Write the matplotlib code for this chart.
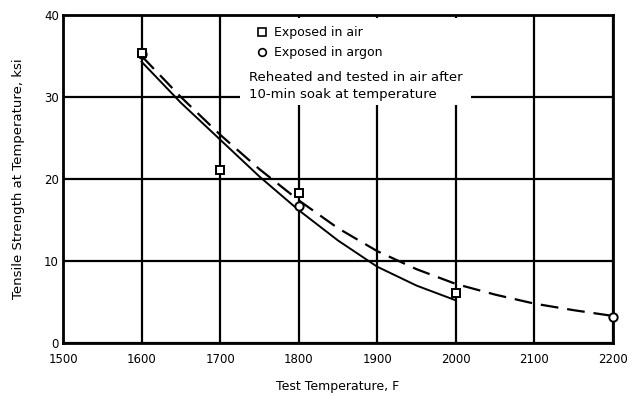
import matplotlib.pyplot as plt
from matplotlib.lines import Line2D
from matplotlib.patches import Rectangle

# measured points
air_temp = [1600, 1700, 1800, 2000]
air_strength = [35.4, 21.1, 18.3, 6.1]
argon_temp = [1600, 1800, 2200]
argon_strength = [35.2, 16.7, 3.2]

# curves
solid_temp = [1600, 1650, 1700, 1750, 1800, 1850, 1900, 1950, 2000]
solid_strength = [34.3, 29.3, 24.8, 20.3, 16.2, 12.5, 9.3, 7.0, 5.2]
dash_temp = [1600, 1650, 1700, 1750, 1800, 1850, 1900, 1950, 2000, 2050, 2100, 2150, 2200]
dash_strength = [35.0, 30.0, 25.4, 21.2, 17.4, 14.0, 11.2, 9.0, 7.2, 5.9, 4.8, 4.0, 3.3]

x_ticks = [1500, 1600, 1700, 1800, 1900, 2000, 2100, 2200]
y_ticks = [0, 10, 20, 30, 40]

fig = plt.figure(figsize=(6.33, 3.93), dpi=100)
ax = fig.add_axes([63 / 633, 50 / 393, 550 / 633, 328 / 393])

ax.set_xlim(1500, 2200)
ax.set_ylim(0, 40)
ax.set_xticks(x_ticks)
ax.set_yticks(y_ticks)
ax.tick_params(length=0, labelsize=8.5)
ax.tick_params(axis='x', pad=7)
ax.tick_params(axis='y', pad=3)
ax.set_axisbelow(True)
ax.grid(True, color='black', linewidth=1.6)
for s in ax.spines.values():
    s.set_linewidth(2)

# white area behind the key text
ax.add_patch(Rectangle((0.322, 0.726), 0.42, 0.265, transform=ax.transAxes,
                       facecolor='white', edgecolor='none', zorder=1))

ax.plot(solid_temp, solid_strength, color='black', lw=1.4, zorder=2)
ax.plot(dash_temp, dash_strength, color='black', lw=1.6, dashes=(8, 4), zorder=2)
ax.plot(argon_temp, argon_strength, 'o', mfc='white', mec='black', mew=1.4, ms=6,
        zorder=3, clip_on=False)
ax.plot(air_temp, air_strength, 's', mfc='white', mec='black', mew=1.4, ms=6, zorder=4)

handles = [Line2D([], [], ls='none', marker='s', mfc='white', mec='black', mew=1.2, ms=5.5),
           Line2D([], [], ls='none', marker='o', mfc='white', mec='black', mew=1.2, ms=5.5)]
ax.legend(handles, ['Exposed in air', 'Exposed in argon'], loc='upper left',
          bbox_to_anchor=(0.335, 0.993), frameon=False, fontsize=9,
          handletextpad=0.4, handlelength=1.0, labelspacing=0.55, borderpad=0.2)
ax.text(0.338, 0.83, 'Reheated and tested in air after\n10-min soak at temperature',
        transform=ax.transAxes, fontsize=9.5, va='top', ha='left', zorder=5,
        linespacing=1.45)

ax.set_xlabel('Test Temperature, F', fontsize=9, labelpad=10)
ax.set_ylabel('Tensile Strength at Temperature, ksi', fontsize=9.5, labelpad=14)

fig.savefig('out.png', dpi=100)
